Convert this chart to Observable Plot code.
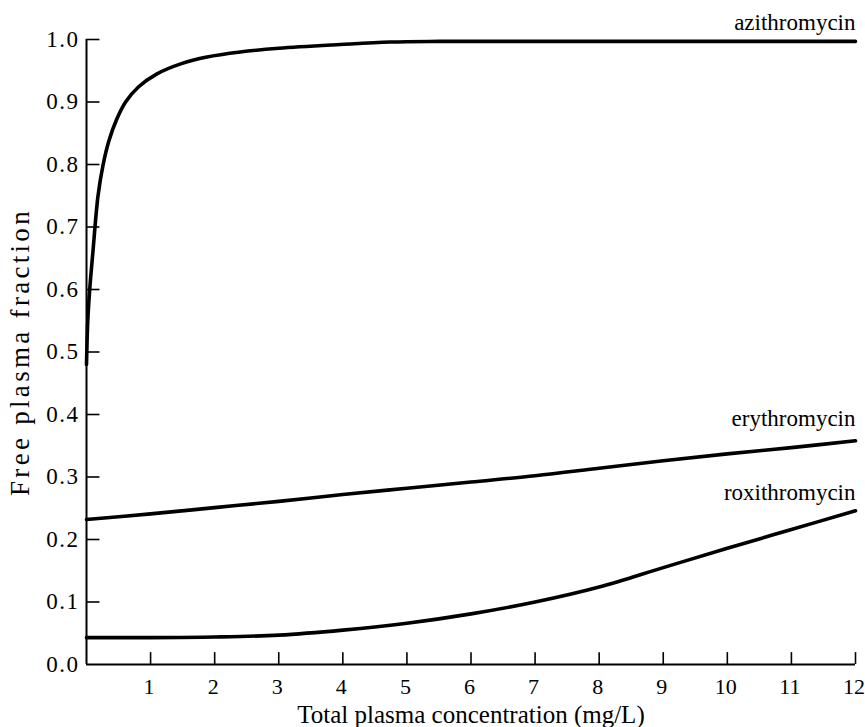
<!DOCTYPE html>
<html>
<head>
<meta charset="utf-8">
<script src="https://cdn.jsdelivr.net/npm/d3@7"></script>
<script src="https://cdn.jsdelivr.net/npm/@observablehq/plot@0.6"></script>
<style>
  html, body { margin: 0; padding: 0; background: #fff; }
  #chart { width: 865px; height: 727px; }
  #chart svg text { font-family: 'Liberation Serif', 'Times New Roman', serif; }
</style>
</head>
<body>
<div id="chart"></div>
<script>
// Tick labels
const xTicks = [1, 2, 3, 4, 5, 6, 7, 8, 9, 10, 11, 12];
const yTicks = [0, 0.1, 0.2, 0.3, 0.4, 0.5, 0.6, 0.7, 0.8, 0.9, 1.0];

// Series: total plasma concentration (mg/L) vs free plasma fraction
const aziX = [0, 0.02, 0.05, 0.1, 0.18, 0.26, 0.35, 0.47, 0.61, 0.81, 1.1, 1.47, 1.88, 2.4, 3.0, 3.96, 4.74, 5.5, 7, 9, 12];
const aziY = [0.48, 0.55, 0.6, 0.66, 0.75, 0.8, 0.838, 0.872, 0.9, 0.924, 0.945, 0.961, 0.972, 0.98, 0.986, 0.992, 0.996, 0.997, 0.997, 0.997, 0.997];

const eryX = [0, 1, 2, 3, 4, 5, 6, 7, 8, 9, 10, 11, 12];
const eryY = [0.232, 0.241, 0.251, 0.261, 0.272, 0.282, 0.292, 0.302, 0.314, 0.326, 0.337, 0.347, 0.358];

const roxX = [0, 1, 2, 3, 4, 5, 6, 7, 8, 9, 10, 11, 12];
const roxY = [0.043, 0.043, 0.044, 0.047, 0.055, 0.066, 0.081, 0.100, 0.124, 0.155, 0.186, 0.216, 0.246];

const drugNames = ["azithromycin", "erythromycin", "roxithromycin"];
const labelY = [0.997, 0.358, 0.246];
const labelDy = [-11, -15, -11];

const xLabel = "Total plasma concentration (mg/L)";
const yLabel = "Free plasma fraction";

const series = [[aziX, aziY], [eryX, eryY], [roxX, roxY]];
const rows = series.flatMap(([xs, ys], i) => xs.map((x, j) => ({drug: drugNames[i], x, y: ys[j]})));
const labels = drugNames.map((name, i) => ({name, x: 12, y: labelY[i], dy: labelDy[i]}));

const chart = Plot.plot({
  width: 865,
  height: 727,
  marginLeft: 86,
  marginRight: 10,
  marginTop: 39,
  marginBottom: 63,
  style: {fontFamily: "'Liberation Serif', serif", color: "#000", background: "#fff"},
  x: {domain: [0, 12], axis: null},
  y: {domain: [0, 1], axis: null},
  marks: [
    // tick labels
    Plot.text(xTicks, {x: d => d, y: 0, text: d => String(d), lineAnchor: "top", dy: 14, dx: -1.5, fontSize: 22, fill: "#000"}),
    Plot.text(yTicks, {x: 0, y: d => d, text: d => d3.format(".1f")(d), textAnchor: "end", lineAnchor: "middle", dx: -7, fontSize: 23, fill: "#000", className: "ytick"}),
    // inward tick marks
    Plot.ruleY(yTicks.filter(d => d > 0), {x1: 0, x2: 0.21, strokeWidth: 1.6}),
    Plot.ruleX(xTicks, {y1: 0, y2: 0.019, strokeWidth: 1.6}),
    // axis lines
    Plot.ruleX([0], {y1: 0, y2: 1, strokeWidth: 2}),
    Plot.ruleY([0], {x1: 0, x2: 12, strokeWidth: 2}),
    // curves
    Plot.line(rows, {x: "x", y: "y", z: "drug", curve: "catmull-rom", stroke: "#000", strokeWidth: 3.6}),
    ...labels.map(l => Plot.text([l], {x: "x", y: "y", text: "name", textAnchor: "end", lineAnchor: "bottom", dy: l.dy, fontSize: 23, fill: "#000"})),
    Plot.text([xLabel], {frameAnchor: "bottom", text: d => d, textAnchor: "middle", lineAnchor: "bottom", dy: 58, fontSize: 25, fill: "#000"}),
    Plot.text([yLabel], {frameAnchor: "left", text: d => d, rotate: -90, textAnchor: "middle", lineAnchor: "middle", dx: -66, fontSize: 27, fill: "#000", className: "ylabel"})
  ]
});
d3.select(chart).selectAll("g.ylabel text").attr("letter-spacing", "3.3px");
d3.select(chart).selectAll("g.ytick text").attr("letter-spacing", "1.5px");
document.getElementById("chart").appendChild(chart);
</script>
</body>
</html>
